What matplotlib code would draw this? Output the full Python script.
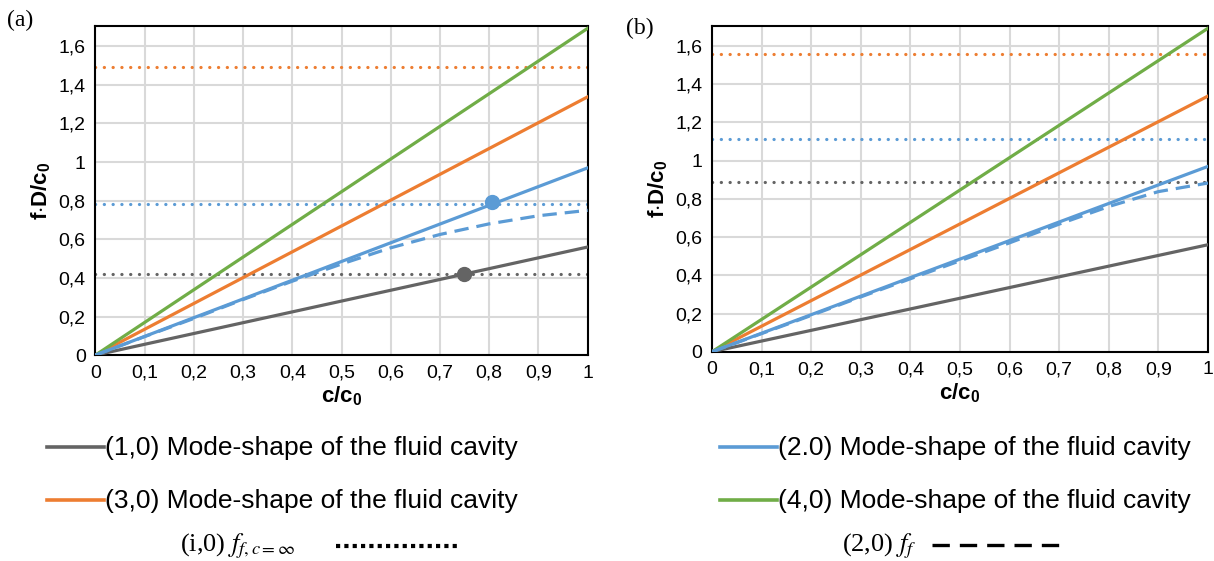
import numpy as np
import matplotlib
matplotlib.use("Agg")
import matplotlib.pyplot as plt
from matplotlib.lines import Line2D
from matplotlib.ticker import FuncFormatter

plt.rcParams['font.family'] = ['Liberation Sans', 'DejaVu Sans']
plt.rcParams['mathtext.fontset'] = 'custom'
plt.rcParams['mathtext.bf'] = 'Liberation Sans:bold'
plt.rcParams['mathtext.rm'] = 'Liberation Sans'

# c/c0 axis and the linear mode lines (rigid-wall cavity modes)
c_ratio = [0.0, 1.0]
mode_10 = [0.0, 0.56]
mode_20 = [0.0, 0.97]
mode_30 = [0.0, 1.338]
mode_40 = [0.0, 1.693]

# f at c = infinity for each panel
ff_inf_a = {"10": 0.42, "20": 0.782, "30": 1.494}
ff_inf_b = {"10": 0.887, "20": 1.114, "30": 1.557}

# coupled (2,0) frequency
x_ff = [0.0, 0.1, 0.2, 0.3, 0.4, 0.5, 0.6, 0.7, 0.8, 0.9, 1.0]
ff_a = [0.0, 0.096, 0.19, 0.288, 0.383, 0.472, 0.556, 0.625, 0.68, 0.722, 0.75]
ff_b = [0.0, 0.095, 0.19, 0.287, 0.382, 0.476, 0.57, 0.668, 0.76, 0.838, 0.883]

# crossing points marked in panel (a)
pt_gray = (0.748, 0.42)
pt_blue = (0.806, 0.794)

GRAY = "#646464"
ORANGE = "#ED7D31"
BLUE = "#5B9BD5"
GREEN = "#70AD47"

fig = plt.figure(figsize=(12.14, 5.61), dpi=100)
ax_a = fig.add_axes([0.0786, 0.367, 0.4055, 0.5867])
ax_b = fig.add_axes([0.5865, 0.373, 0.4085, 0.5807])

comma = FuncFormatter(lambda v, p: ("%g" % round(v, 2)).replace(".", ","))
dot = (0, (0.05, 2.7))


def draw_panel(ax, ff_inf, ff):
    lw = 2.3
    ax.plot(c_ratio, mode_10, color=GRAY, lw=lw, zorder=3)
    ax.plot(c_ratio, mode_30, color=ORANGE, lw=lw, zorder=3)
    ax.plot(c_ratio, mode_40, color=GREEN, lw=lw, zorder=3)
    ax.plot(c_ratio, mode_20, color=BLUE, lw=lw, zorder=4)
    ax.plot(x_ff, ff, color=BLUE, lw=lw, dashes=(4.5, 2.5), zorder=4)
    for key, col in (("10", GRAY), ("20", BLUE), ("30", ORANGE)):
        ax.axhline(ff_inf[key], color=col, lw=2.3, linestyle=dot,
                   dash_capstyle="round", zorder=2)
    ax.set_xlim(0, 1)
    ax.set_ylim(0, 1.705)
    ax.set_xticks(np.arange(0, 1.01, 0.1))
    ax.set_yticks(np.arange(0, 1.61, 0.2))
    ax.xaxis.set_major_formatter(comma)
    ax.yaxis.set_major_formatter(comma)
    ax.tick_params(length=0, labelsize=14, pad=7)
    ax.grid(color="#d9d9d9", lw=1.5)
    ax.set_axisbelow(True)
    for s in ax.spines.values():
        s.set_linewidth(1.5)
        s.set_color("black")
    ax.set_xlabel(r"$\mathbf{c/c_0}$", fontsize=16, labelpad=2)
    ax.set_ylabel(r"$\mathbf{f{\cdot}D/c_0}$", fontsize=16, labelpad=4)


draw_panel(ax_a, ff_inf_a, ff_a)
draw_panel(ax_b, ff_inf_b, ff_b)

ax_a.plot(*pt_gray, "o", color=GRAY, ms=10, zorder=5)
ax_a.plot(*pt_blue, "o", color=BLUE, ms=10, zorder=5)

fig.text(0.006, 0.963, "(a)", family="Liberation Serif", fontsize=17, va="center")
fig.text(0.516, 0.95, "(b)", family="Liberation Serif", fontsize=17, va="center")

# legend drawn in figure pixels
W, H = 1214, 561


def fx(px):
    return px / W


def fy(py):
    return 1 - py / H


entries = [
    (47, 447, GRAY, "(1,0) Mode-shape of the fluid cavity"),
    (720, 447, BLUE, "(2.0) Mode-shape of the fluid cavity"),
    (47, 500, ORANGE, "(3,0) Mode-shape of the fluid cavity"),
    (720, 500, GREEN, "(4,0) Mode-shape of the fluid cavity"),
]
for x0, y0, col, txt in entries:
    fig.add_artist(Line2D([fx(x0), fx(x0 + 57)], [fy(y0), fy(y0)],
                          color=col, lw=2.6))
    fig.text(fx(x0 + 58), fy(y0 + 1), txt, fontsize=19, va="center")

serif = dict(family="Liberation Serif", math_fontfamily="stix", fontsize=19,
             va="center")
fig.text(fx(180), fy(546), r"(i,0) $f_{f,c=\infty}$", **serif)
fig.add_artist(Line2D([fx(336), fx(457)], [fy(546), fy(546)], color="black",
                      lw=3, dashes=(1, 1)))
fig.text(fx(842), fy(546), r"(2,0) $f_f$", **serif)
fig.add_artist(Line2D([fx(932), fx(1060)], [fy(545), fy(545)], color="black",
                      lw=2.4, dashes=(5.2, 3.0)))

fig.savefig("out.png", dpi=100)
